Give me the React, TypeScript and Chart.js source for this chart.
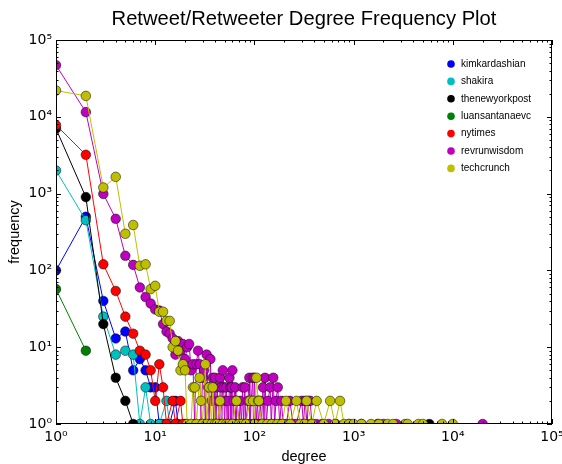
import React, { useEffect, useRef } from 'react';
import { Chart, registerables } from 'chart.js';

Chart.register(...registerables);

const chartTitle = 'Retweet/Retweeter Degree Frequency Plot';
const xAxisTitle = 'degree';
const yAxisTitle = 'frequency';

const seriesNames = ['kimkardashian', 'shakira', 'thenewyorkpost', 'luansantanaevc', 'nytimes', 'revrunwisdom', 'techcrunch'];
const seriesColors = ['#0000ff', '#00bfbf', '#000000', '#008000', '#ff0000', '#bf00bf', '#bfbf00'];

const decadeTicks = [1, 10, 100, 1000, 10000, 100000];
const decadeLabels = ['10⁰', '10¹', '10²', '10³', '10⁴', '10⁵'];

// [degree, frequency]
const kimkardashianPoints: [number, number][] = [
  [1, 100], [2, 500], [3, 40], [4, 13], [5, 16], [6, 5], [7, 7], [8, 5], [9, 3], [10, 3],
  [11, 1], [12, 1], [14, 1], [16, 2], [17, 1], [20, 1], [108, 1],
];
const shakiraPoints: [number, number][] = [
  [1, 2000], [2, 450], [3, 25], [4, 8], [5, 9], [6, 8], [7, 1], [8, 3], [9, 1], [11, 1],
  [13, 2], [14, 1], [16, 1],
];
const thenewyorkpostPoints: [number, number][] = [
  [1, 7000], [2, 900], [3, 20], [4, 4], [5, 2], [6, 1], [125, 1], [660, 1], [1750, 1], [5800, 1],
];
const luansantanaevcPoints: [number, number][] = [
  [1, 57], [2, 9],
];
const nytimesPoints: [number, number][] = [
  [1, 7800], [2, 3200], [3, 120], [4, 54], [5, 25], [6, 15], [7, 9], [8, 8], [9, 5], [10, 2],
  [11, 6], [12, 3], [13, 1], [15, 2], [16, 1], [18, 2], [19, 1], [30, 1],
];
const revrunwisdomPoints: [number, number][] = [
  [1, 47000], [2, 11500], [3, 990], [4, 470], [5, 155], [6, 118], [7, 60], [8, 45], [9, 37], [10, 31],
  [11, 30], [12, 20], [13, 16], [14, 15], [15, 13], [16, 8], [17, 12], [18, 9], [19, 11], [20, 7],
  [21, 10], [22, 11], [23, 5], [24, 6], [25, 1], [26, 6], [27, 9], [28, 6], [29, 1], [30, 4],
  [31, 5], [32, 1], [33, 8], [34, 3], [35, 1], [36, 7], [37, 2], [38, 4], [39, 1], [40, 4],
  [41, 1], [42, 3], [43, 2], [44, 1], [45, 4], [46, 3], [47, 1], [48, 5], [49, 3], [50, 1],
  [51, 2], [52, 3], [53, 1], [54, 2], [55, 1], [56, 4], [57, 3], [58, 1], [59, 3], [60, 5],
  [61, 1], [62, 2], [64, 3], [65, 1], [67, 2], [70, 1], [72, 2], [74, 1], [76, 3], [78, 1],
  [80, 3], [82, 1], [86, 2], [89, 4], [90, 1], [93, 2], [96, 4], [98, 1], [100, 4], [104, 1],
  [107, 2], [110, 1], [114, 2], [118, 1], [122, 3], [125, 1], [128, 4], [132, 1], [137, 2], [144, 3],
  [148, 1], [155, 4], [160, 1], [165, 2], [172, 3], [180, 1], [187, 2], [195, 1], [210, 1], [228, 2],
  [245, 1], [265, 1], [300, 2], [312, 1], [324, 2], [340, 1], [350, 2], [365, 2], [380, 1], [420, 1],
  [480, 1], [560, 1], [900, 1], [1200, 1], [2000, 1], [2700, 1], [20000, 1],
];
const techcrunchPoints: [number, number][] = [
  [1, 22000], [2, 18700], [3, 1200], [4, 1650], [5, 300], [6, 390], [7, 115], [8, 120], [9, 57], [10, 63],
  [11, 29], [12, 29], [13, 22], [14, 22], [15, 10], [16, 12], [17, 9], [18, 5], [19, 6], [20, 5],
  [21, 1], [23, 1], [24, 3], [25, 3], [26, 1], [28, 4], [29, 2], [30, 1], [32, 6], [33, 1],
  [35, 3], [37, 1], [38, 3], [40, 1], [42, 1], [45, 2], [48, 1], [52, 1], [55, 1], [60, 1],
  [66, 2], [70, 1], [75, 1], [82, 1], [90, 2], [97, 2], [100, 1], [105, 4], [109, 2], [111, 2],
  [120, 1], [135, 1], [150, 1], [170, 1], [190, 1], [208, 2], [230, 1], [266, 2], [290, 1], [320, 1],
  [336, 2], [380, 1], [424, 2], [500, 1], [580, 2], [650, 1], [730, 2], [800, 1], [900, 1], [1000, 1],
  [1200, 1], [1500, 1], [1800, 1], [2200, 1], [2500, 1], [3300, 1], [3500, 1], [4500, 1], [5000, 1], [7800, 1],
  [10000, 1],
];

const seriesPoints = [
  kimkardashianPoints, shakiraPoints, thenewyorkpostPoints, luansantanaevcPoints,
  nytimesPoints, revrunwisdomPoints, techcrunchPoints,
];

const TEXT_FONT = '"Liberation Sans", Arial, sans-serif';
const TICK_FONT = '"DejaVu Sans", sans-serif';

const framePlugin = {
  id: 'mplFrame',
  afterDatasetsDraw(chart: any) {
    const { ctx, chartArea } = chart;
    const { left, right, top, bottom } = chartArea;
    const xs = chart.scales.x;
    const ys = chart.scales.y;
    ctx.save();
    ctx.strokeStyle = '#000';
    ctx.lineWidth = 1;
    ctx.beginPath();
    for (let e = 0; e < decadeTicks.length; e++) {
      const base = decadeTicks[e];
      for (let m = 1; m <= 9; m++) {
        const v = base * m;
        if (v > decadeTicks[decadeTicks.length - 1]) break;
        const len = m === 1 ? 5 : 2.5;
        const px = Math.round(xs.getPixelForValue(v)) + 0.5;
        ctx.moveTo(px, bottom); ctx.lineTo(px, bottom - len);
        ctx.moveTo(px, top); ctx.lineTo(px, top + len);
        const py = Math.round(ys.getPixelForValue(v)) + 0.5;
        ctx.moveTo(left, py); ctx.lineTo(left + len, py);
        ctx.moveTo(right, py); ctx.lineTo(right - len, py);
      }
    }
    ctx.stroke();
    ctx.strokeRect(Math.round(left) + 0.5, Math.round(top) + 0.5, Math.round(right - left) - 1, Math.round(bottom - top) - 1);
    ctx.restore();
  },
};

const legendPlugin = {
  id: 'cornerLegend',
  afterDraw(chart: any) {
    const { ctx, chartArea } = chart;
    ctx.save();
    ctx.font = `10px ${TEXT_FONT}`;
    ctx.textBaseline = 'middle';
    ctx.textAlign = 'left';
    chart.data.datasets.forEach((ds: any, i: number) => {
      const x = chartArea.right - 101;
      const y = chartArea.top + 24 + i * 17.4;
      ctx.beginPath();
      ctx.arc(x, y, 3.8, 0, Math.PI * 2);
      ctx.fillStyle = ds.backgroundColor;
      ctx.fill();
      ctx.fillStyle = '#000';
      ctx.fillText(ds.label, x + 10, y);
    });
    ctx.restore();
  },
};

function tickLabel(value: number) {
  const idx = decadeTicks.indexOf(value);
  return idx >= 0 ? decadeLabels[idx] : '';
}

export default function App() {
  const canvasRef = useRef<HTMLCanvasElement | null>(null);

  useEffect(() => {
    if (!canvasRef.current) return;
    const datasets = seriesNames.map((name, i) => ({
      label: name,
      data: seriesPoints[i].map(([d, f]) => ({ x: d, y: f })),
      borderColor: seriesColors[i],
      backgroundColor: seriesColors[i],
      borderWidth: 1,
      pointRadius: 4.8,
      pointBackgroundColor: seriesColors[i],
      pointBorderColor: '#000',
      pointBorderWidth: 0.5,
      tension: 0,
      order: seriesNames.length - 1 - i,
    }));

    const chart = new Chart(canvasRef.current, {
      type: 'line',
      data: { datasets },
      options: {
        animation: false,
        responsive: false,
        devicePixelRatio: 1,
        layout: { padding: { left: 0, right: 10, top: 0, bottom: 0 } },
        plugins: {
          legend: { display: false },
          tooltip: { enabled: false },
          title: {
            display: true,
            fullSize: false,
            text: chartTitle,
            color: '#000',
            font: { family: TEXT_FONT, size: 20.2, weight: 'normal', lineHeight: 1.2 },
            padding: { top: 7, bottom: 8.76 },
          },
        },
        scales: {
          x: {
            type: 'logarithmic',
            min: 1,
            max: 100000,
            afterBuildTicks: (s: any) => { s.ticks = decadeTicks.map((v) => ({ value: v })); },
            afterFit: (s: any) => { s.height = 40; s.paddingLeft = 0; s.paddingRight = 0; },
            ticks: {
              callback: (v: any) => tickLabel(Number(v)),
              color: '#000',
              font: { family: TICK_FONT, size: 14 },
              padding: 5,
              maxRotation: 0,
              autoSkip: false,
            },
            grid: { display: false, drawTicks: false },
            border: { display: false },
            title: {
              display: true,
              text: xAxisTitle,
              color: '#000',
              font: { family: TEXT_FONT, size: 14.5, lineHeight: 1 },
              padding: { top: 0, bottom: 0 },
            },
          },
          y: {
            type: 'logarithmic',
            min: 1,
            max: 100000,
            afterBuildTicks: (s: any) => { s.ticks = decadeTicks.map((v) => ({ value: v })); },
            afterFit: (s: any) => { s.width = 56; s.paddingTop = 0; s.paddingBottom = 0; },
            ticks: {
              callback: (v: any) => tickLabel(Number(v)),
              color: '#000',
              font: { family: TICK_FONT, size: 14 },
              padding: 4,
              autoSkip: false,
            },
            grid: { display: false, drawTicks: false },
            border: { display: false },
            title: {
              display: true,
              text: yAxisTitle,
              color: '#000',
              font: { family: TEXT_FONT, size: 14.5 },
              padding: { top: 6, bottom: 0 },
            },
          },
        },
      } as any,
      plugins: [framePlugin, legendPlugin],
    });
    return () => chart.destroy();
  }, []);

  return (
    <div style={{ position: 'fixed', left: 0, top: 0, width: 562, height: 464, background: '#fff' }}>
      <canvas ref={canvasRef} width={562} height={464} style={{ display: 'block' }} />
    </div>
  );
}
